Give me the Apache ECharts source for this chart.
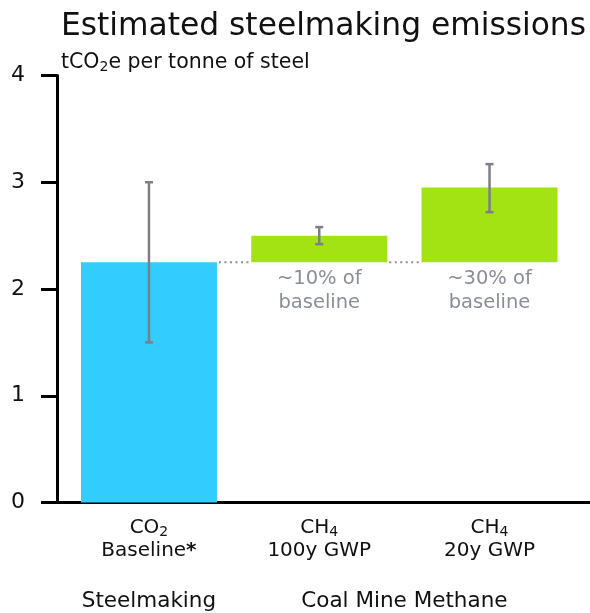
<!DOCTYPE html>
<html>
<head>
<meta charset="utf-8">
<script src="https://cdn.jsdelivr.net/npm/echarts@6/dist/echarts.min.js"></script>
<style>
  html, body { margin: 0; padding: 0; background: #fff; }
  #chart { width: 590px; height: 613px; }
</style>
</head>
<body>
<div id="chart"></div>
<script>
// Category positions on the x value scale and their labels
const categoryPos = [0, 1, 2];
const categoryLabels = [
  '{n|CO}{sub|2}\n{n|Baseline}{b|*}',
  '{n|CH}{sub|4}\n{n|100y GWP}',
  '{n|CH}{sub|4}\n{n|20y GWP}'
];
const groupPos = [0, 1.5];
const groupLabels = ['Steelmaking', 'Coal Mine Methane'];

// Emissions, tCO2e per tonne of steel
const baselineCO2 = 2.25;
const methaneTotals = [2.50, 2.95];          // CH4 100y, CH4 20y (stacked on the baseline)
const methanePos = [1, 2];
const methaneNotes = ['~10% of\nbaseline', '~30% of\nbaseline'];

// Uncertainty ranges [position, low, high]
const errorRanges = [
  [0, 1.50, 3.00],
  [1, 2.42, 2.58],
  [2, 2.72, 3.17]
];

const yTicks = [0, 1, 2, 3, 4];

const BAR_W = 136;
const FONT = '"DejaVu Sans", Verdana, sans-serif';
const INK = '#111111';

const chart = echarts.init(document.getElementById('chart'), null, { renderer: 'canvas' });

const option = {
  animation: false,
  backgroundColor: '#ffffff',
  textStyle: { fontFamily: FONT },
  title: [
    {
      text: 'Estimated steelmaking emissions',
      left: 56, top: 6,
      textStyle: { fontSize: 31.3, fontWeight: 'normal', color: INK, fontFamily: FONT }
    },
    {
      text: '{n|tCO}{sub|2}{n|e per tonne of steel}',
      left: 56, top: 46,
      textStyle: {
        fontFamily: FONT, fontWeight: 'normal',
        rich: {
          n: { fontSize: 20.5, color: INK, fontWeight: 'normal', fontFamily: FONT },
          sub: { fontSize: 14, color: INK, fontWeight: 'normal', fontFamily: FONT, padding: [9, 0, 0, 0] }
        }
      }
    }
  ],
  grid: { left: 57, right: 0, top: 75.5, bottom: 110.5, containLabel: false },
  xAxis: [
    {
      type: 'value', min: -0.54, max: 2.59, position: 'bottom',
      axisLine: { show: true, onZero: false, lineStyle: { color: '#000', width: 3 } },
      axisTick: { show: false },
      splitLine: { show: false },
      axisLabel: {
        customValues: categoryPos,
        margin: 14,
        formatter: (v) => categoryLabels[categoryPos.indexOf(v)] || '',
        rich: {
          n: { fontSize: 20, color: INK, lineHeight: 23, fontFamily: FONT },
          b: { fontSize: 20, color: INK, lineHeight: 23, fontFamily: FONT, fontWeight: 'bold' },
          sub: { fontSize: 14, color: INK, lineHeight: 23, fontFamily: FONT, padding: [9, 0, 0, 0] }
        }
      }
    },
    {
      type: 'value', min: -0.54, max: 2.59, position: 'bottom', offset: 72,
      axisLine: { show: false },
      axisTick: { show: false },
      splitLine: { show: false },
      axisLabel: {
        customValues: groupPos,
        margin: 16,
        fontSize: 21.5, color: INK, fontFamily: FONT,
        formatter: (v) => groupLabels[groupPos.indexOf(v)] || ''
      }
    }
  ],
  yAxis: {
    type: 'value', min: 0, max: 4, interval: 1,
    axisLine: { show: true, onZero: false, lineStyle: { color: '#000', width: 3 } },
    axisTick: { show: true, length: 16, lineStyle: { color: '#000', width: 3 } },
    splitLine: { show: false },
    axisLabel: {
      margin: 32, fontSize: 22, color: INK, fontFamily: FONT,
      formatter: (v) => yTicks.includes(v) ? String(v) : ''
    }
  },
  series: [
    {
      name: 'CO2 baseline', type: 'bar', xAxisIndex: 0,
      barWidth: BAR_W, barGap: '-100%',
      itemStyle: { color: '#33ccff' },
      data: [[0, baselineCO2]]
    },
    {
      // invisible column up to the baseline, carrying the share notes under each methane bar
      name: 'baseline level', type: 'bar', xAxisIndex: 0,
      barWidth: BAR_W, barGap: '-100%',
      itemStyle: { color: 'rgba(0,0,0,0)' },
      label: {
        show: true, position: 'insideTop', distance: 5,
        fontSize: 19.5, lineHeight: 24, color: '#8a8e98', fontFamily: FONT,
        formatter: (p) => methaneNotes[p.dataIndex]
      },
      data: methanePos.map((x) => [x, baselineCO2])
    },
    {
      // methane increments floating on top of the CO2 baseline
      name: 'CH4', type: 'custom', xAxisIndex: 0,
      renderItem: (params, api) => {
        const lo = api.coord([api.value(0), api.value(1)]);
        const hi = api.coord([api.value(0), api.value(2)]);
        return {
          type: 'rect',
          shape: { x: lo[0] - BAR_W / 2, y: hi[1], width: BAR_W, height: lo[1] - hi[1] },
          style: { fill: '#a3e314' }
        };
      },
      data: methanePos.map((x, i) => [x, baselineCO2, methaneTotals[i]]),
      z: 2
    },
    {
      // dotted connectors along the baseline level between bars
      name: 'connector', type: 'custom', xAxisIndex: 0,
      renderItem: (params, api) => {
        const a = api.coord([api.value(0), api.value(2)]);
        const b = api.coord([api.value(1), api.value(2)]);
        return {
          type: 'line',
          shape: { x1: a[0] + BAR_W / 2 + 2, y1: a[1], x2: b[0] - BAR_W / 2 - 1, y2: b[1] },
          style: { stroke: '#8c8c94', lineWidth: 2, lineDash: [2, 3.5] }
        };
      },
      data: [[0, 1, baselineCO2], [1, 2, baselineCO2]],
      z: 3
    },
    {
      name: 'range', type: 'custom', xAxisIndex: 0,
      renderItem: (params, api) => {
        const lo = api.coord([api.value(0), api.value(1)]);
        const hi = api.coord([api.value(0), api.value(2)]);
        const cap = 4;
        const st = { stroke: '#7d7f88', lineWidth: 2.5 };
        return {
          type: 'group',
          children: [
            { type: 'line', shape: { x1: lo[0], y1: lo[1], x2: hi[0], y2: hi[1] }, style: st },
            { type: 'line', shape: { x1: lo[0] - cap, y1: lo[1], x2: lo[0] + cap, y2: lo[1] }, style: st },
            { type: 'line', shape: { x1: hi[0] - cap, y1: hi[1], x2: hi[0] + cap, y2: hi[1] }, style: st }
          ]
        };
      },
      data: errorRanges,
      z: 5
    }
  ]
};

chart.setOption(option);
</script>
</body>
</html>
